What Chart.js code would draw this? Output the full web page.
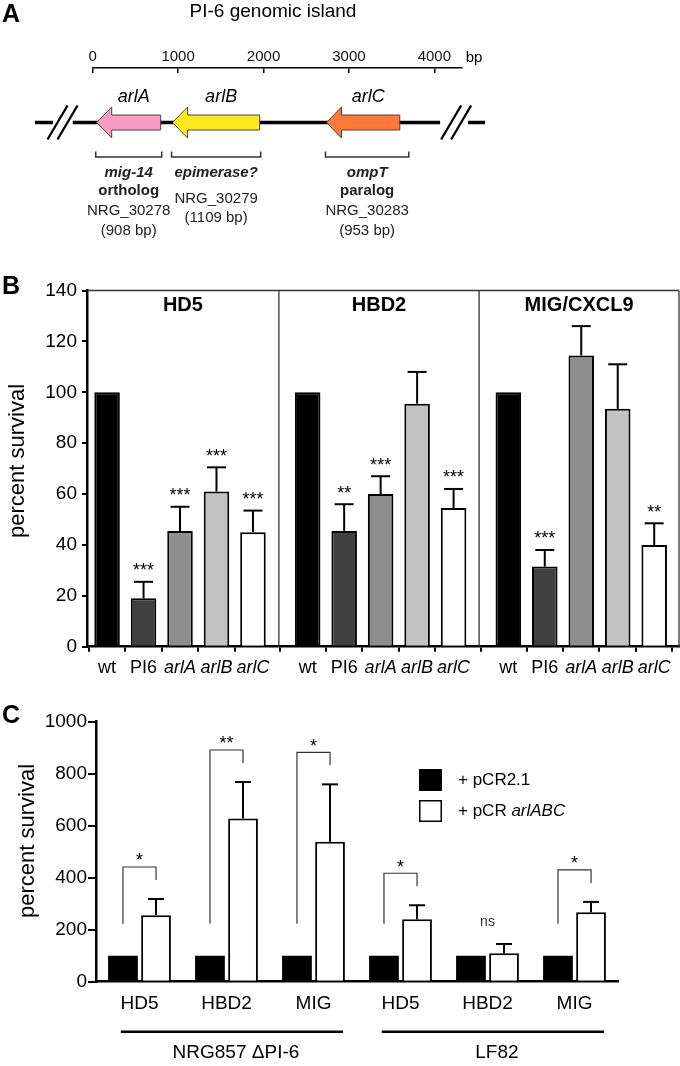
<!DOCTYPE html>
<html><head><meta charset="utf-8">
<script src="https://cdn.jsdelivr.net/npm/chart.js@4.4.0/dist/chart.umd.min.js"></script>
<style>
html,body{margin:0;padding:0;background:#fff;}
body{width:680px;height:1066px;position:relative;overflow:hidden;}
canvas{position:absolute;left:0;}
</style></head><body>
<canvas id="cA" width="680" height="250" style="top:0px"></canvas>
<canvas id="cB" width="680" height="430" style="top:260px"></canvas>
<canvas id="cC" width="680" height="366" style="top:700px"></canvas>
<script>
// ---------------- DATA ----------------
// Panel A: PI-6 genomic island gene map (bp)
const bpTicks = [0, 1000, 2000, 3000, 4000];
const geneNames = ['arlA', 'arlB', 'arlC'];
const geneStart = [47, 935, 2737];
const geneEnd = [796, 1955, 3595];
const geneProduct = [['mig-14', 'ortholog'], ['epimerase?'], ['ompT', 'paralog']];
const geneLocus = ['NRG_30278', 'NRG_30279', 'NRG_30283'];
const geneLength = ['908 bp', '1109 bp', '953 bp'];

// Panel B: percent survival per peptide
const peptidesB = ['HD5', 'HBD2', 'MIG/CXCL9'];
const strainsB = ['wt', 'PI6', 'arlA', 'arlB', 'arlC'];
const hd5Survival = [100, 19, 45.5, 61, 45];
const hd5Sem = [0, 6.5, 9.5, 9.5, 8.5];
const hd5Sig = ['', '***', '***', '***', '***'];
const hbd2Survival = [100, 45.5, 60, 95.5, 54.5];
const hbd2Sem = [0, 10.5, 7, 12.5, 7.5];
const hbd2Sig = ['', '**', '***', '', '***'];
const migSurvival = [100, 31.5, 114.5, 93.5, 40];
const migSem = [0, 6.5, 11.5, 17.5, 8.5];
const migSig = ['', '***', '', '', '**'];

// Panel C: complementation
const peptidesC = ['HD5', 'HBD2', 'MIG', 'HD5', 'HBD2', 'MIG'];
const strainGroupsC = ['NRG857 \u0394PI-6', 'LF82'];
const vectorLabels = ['+ pCR2.1', '+ pCR arlABC'];
const pCR21Survival = [100, 100, 100, 100, 100, 100];
const arlABCSurvival = [256, 628, 538, 240, 109, 267];
const arlABCSem = [62, 140, 221, 54, 36, 40];
const sigC = ['*', '**', '*', '*', 'ns', '*'];

// ---------------- HELPERS ----------------
const FONT = '"Liberation Sans", Arial, Helvetica, sans-serif';
Chart.defaults.font.family = FONT;
Chart.defaults.color = '#000';
const isItal = s => /^arl/.test(s);
const plain = v => String(v);

function txt(ctx, s, x, y, o = {}) {
  ctx.save();
  ctx.font = `${o.style || 'normal'} ${o.weight || 'normal'} ${o.size || 15}px ${FONT}`;
  ctx.fillStyle = o.color || '#000';
  ctx.textAlign = o.align || 'center';
  ctx.textBaseline = o.base || 'middle';
  ctx.fillText(s, x, y);
  ctx.restore();
}
function richLeft(ctx, s, x, y, size) {
  const words = s.split(' ');
  let cx = x;
  words.forEach((w, i) => {
    const t = (i < words.length - 1) ? w + ' ' : w;
    ctx.save();
    ctx.font = `${isItal(w) ? 'italic' : 'normal'} normal ${size}px ${FONT}`;
    ctx.fillStyle = '#000'; ctx.textAlign = 'left'; ctx.textBaseline = 'middle';
    ctx.fillText(t, cx, y);
    cx += ctx.measureText(t).width;
    ctx.restore();
  });
}
function star(ctx, s, x, cy, size) {
  txt(ctx, s, x, cy + 0.58 * size, { size, base: 'alphabetic' });
}
function line(ctx, x1, y1, x2, y2) { ctx.beginPath(); ctx.moveTo(x1, y1); ctx.lineTo(x2, y2); ctx.stroke(); }
function vtitle(ctx, s, x, y, size) {
  ctx.save(); ctx.translate(x, y); ctx.rotate(-Math.PI / 2);
  txt(ctx, s, 0, 0, { size }); ctx.restore();
}

// ---------------- PANEL A ----------------
const geneColors = ['#f89cc3', '#ffe81e', '#ff7a38'];
const genePlugin = {
  id: 'genes',
  afterDraw(chart) {
    const ctx = chart.ctx, xs = chart.scales.x;
    const px = v => xs.getPixelForValue(v);
    txt(ctx, 'A', 11, 15, { size: 25, weight: 'bold' });
    txt(ctx, 'PI-6 genomic island', 273, 12, { size: 19 });
    txt(ctx, 'bp', chart.chartArea.right + 4, 57.5, { size: 15, align: 'left' });
    const yc = 122.5;
    ctx.save();
    ctx.strokeStyle = '#000'; ctx.lineWidth = 3.5;
    line(ctx, px(-676), yc, px(-465), yc);
    line(ctx, px(-234), yc, px(4067), yc);
    line(ctx, px(4395), yc, px(4594), yc);
    ctx.lineWidth = 2.3;
    [-412, -295, 4196, 4313].forEach(v => { const c = px(v); line(ctx, c - 10, yc + 17, c + 10, yc - 17); });
    ctx.restore();
    geneNames.forEach((g, i) => {
      const x0 = px(geneStart[i]), x1 = px(geneEnd[i]);
      const bh = 7.5, hh = 15.5, hl = 15;
      ctx.save();
      ctx.beginPath();
      ctx.moveTo(x0, yc);
      ctx.lineTo(x0 + hl, yc - hh); ctx.lineTo(x0 + hl, yc - bh); ctx.lineTo(x1, yc - bh);
      ctx.lineTo(x1, yc + bh); ctx.lineTo(x0 + hl, yc + bh); ctx.lineTo(x0 + hl, yc + hh);
      ctx.closePath();
      ctx.fillStyle = geneColors[i]; ctx.fill();
      ctx.strokeStyle = '#444'; ctx.lineWidth = 1; ctx.stroke();
      ctx.restore();
      txt(ctx, g, (x0 + x1) / 2 + 5, 97, { size: 18, style: 'italic' });
      const bl = x0 - 1, br = (i === 2) ? x1 + 9 : x1 + 1;
      ctx.save(); ctx.strokeStyle = '#333'; ctx.lineWidth = 1.5;
      ctx.beginPath(); ctx.moveTo(bl, 151.5); ctx.lineTo(bl, 157); ctx.lineTo(br, 157); ctx.lineTo(br, 151.5); ctx.stroke();
      ctx.restore();
      const cx = (bl + br) / 2;
      const lines = geneProduct[i];
      txt(ctx, lines[0], cx, 173, { size: 15, weight: 'bold', style: 'italic', color: '#222' });
      if (lines.length > 1) {
        txt(ctx, lines[1], cx, 191, { size: 15, weight: 'bold', color: '#222' });
        txt(ctx, geneLocus[i], cx, 211, { size: 15, color: '#222' });
        txt(ctx, '(' + geneLength[i] + ')', cx, 231, { size: 15, color: '#222' });
      } else {
        txt(ctx, geneLocus[i], cx, 199, { size: 15, color: '#222' });
        txt(ctx, '(' + geneLength[i] + ')', cx, 218, { size: 15, color: '#222' });
      }
    });
  }
};
new Chart(document.getElementById('cA'), {
  type: 'scatter',
  data: { datasets: [{ data: [] }] },
  options: {
    responsive: false, animation: false, events: [],
    layout: { padding: { left: 92.7, right: 680 - 461.7, top: 0, bottom: 250 - 73 } },
    plugins: { legend: { display: false }, tooltip: { enabled: false } },
    scales: {
      x: {
        type: 'linear', position: 'top', min: 0, max: 4320,
        afterBuildTicks: s => { s.ticks = bpTicks.map(v => ({ value: v })); },
        afterFit: s => { s.height = 68; },
        ticks: { callback: plain, font: { size: 15 }, color: '#111', padding: 2, maxRotation: 0, autoSkip: false },
        grid: { drawOnChartArea: true, drawTicks: false, color: '#000', lineWidth: 1.5 },
        border: { display: true, color: '#000', width: 1.5 }
      },
      y: { display: false, min: 0, max: 1 }
    }
  },
  plugins: [genePlugin]
});

// ---------------- PANEL B ----------------
const strainColors = ['#000000', '#404040', '#8e8e8e', '#c2c2c2', '#ffffff'];
const groupOffsetB = [0.55, 6.05, 11.55];
const dividersB = [5.26, 10.75];
const survB = [hd5Survival, hbd2Survival, migSurvival];
const semB = [hd5Sem, hbd2Sem, migSem];
const sigB = [hd5Sig, hbd2Sig, migSig];
const ptsB = [], colB = [], eB = [], sB = [], labB = [], posB = [];
survB.forEach((arr, g) => arr.forEach((v, i) => {
  const x = groupOffsetB[g] + i;
  ptsB.push({ x, y: v }); posB.push(x);
  colB.push(strainColors[i]); eB.push(semB[g][i]); sB.push(sigB[g][i]); labB.push(strainsB[i]);
}));
const panelBPlugin = {
  id: 'panelB',
  afterDatasetsDraw(chart) {
    const ctx = chart.ctx, ys = chart.scales.y;
    chart.getDatasetMeta(0).data.forEach((bar, i) => {
      const top = ys.getPixelForValue(ptsB[i].y + eB[i]);
      if (eB[i] > 0) {
        ctx.save(); ctx.strokeStyle = '#000'; ctx.lineWidth = 2;
        line(ctx, bar.x, bar.y, bar.x, top);
        line(ctx, bar.x - 9.5, top, bar.x + 9.5, top);
        ctx.restore();
      }
      if (sB[i]) star(ctx, sB[i], bar.x, top - 16, 18);
    });
  },
  afterDraw(chart) {
    const ctx = chart.ctx, a = chart.chartArea, xs = chart.scales.x;
    const d = dividersB.map(v => xs.getPixelForValue(v));
    ctx.save(); ctx.strokeStyle = '#333'; ctx.lineWidth = 1.3;
    line(ctx, a.left, a.top, a.right, a.top);
    line(ctx, a.right, a.top, a.right, a.bottom);
    d.forEach(x => line(ctx, x, a.top, x, a.bottom));
    ctx.restore();
    const edges = [a.left, d[0], d[1], a.right];
    peptidesB.forEach((p, i) => txt(ctx, p, (edges[i] + edges[i + 1]) / 2, a.top + 14.5, { size: 20, weight: 'bold' }));
    vtitle(ctx, 'percent survival', 18.3, 201, 22);
    txt(ctx, 'B', 11, 27.5, { size: 25, weight: 'bold' });
  }
};
new Chart(document.getElementById('cB'), {
  type: 'bar',
  data: { datasets: [{ data: ptsB, backgroundColor: colB, borderColor: '#000', borderWidth: 2, borderSkipped: 'start', categoryPercentage: 1, barPercentage: 0.7 }] },
  options: {
    responsive: false, animation: false, events: [],
    layout: { padding: { left: 0, right: 1, top: 30.5, bottom: 0 } },
    plugins: { legend: { display: false }, tooltip: { enabled: false } },
    scales: {
      x: {
        type: 'linear', min: 0, max: 16.23, offset: false,
        afterBuildTicks: s => { s.ticks = posB.map(v => ({ value: v })); },
        afterFit: s => { s.height = 43.3; },
        ticks: {
          callback: (v, i) => labB[i], autoSkip: false, maxRotation: 0, minRotation: 0, padding: 5.5, color: '#000',
          font: c => ({ size: 18, family: FONT, style: isItal(labB[c.index]) ? 'italic' : 'normal' })
        },
        grid: { drawOnChartArea: false, tickLength: 5, color: '#000', lineWidth: 2 },
        border: { color: '#000', width: 2.5 }
      },
      y: {
        min: 0, max: 140,
        afterFit: s => { s.width = 87; },
        ticks: { callback: plain, stepSize: 20, font: { size: 19 }, color: '#000', padding: 5 },
        grid: { drawOnChartArea: false, tickLength: 5, color: '#000', lineWidth: 2 },
        border: { color: '#000', width: 2.5 }
      }
    }
  },
  plugins: [panelBPlugin]
});

// ---------------- PANEL C ----------------
const panelCPlugin = {
  id: 'panelC',
  afterDatasetsDraw(chart) {
    const ctx = chart.ctx, ys = chart.scales.y;
    const m0 = chart.getDatasetMeta(0).data, m1 = chart.getDatasetMeta(1).data;
    m1.forEach((bar, i) => {
      const top = ys.getPixelForValue(arlABCSurvival[i] + arlABCSem[i]);
      ctx.save(); ctx.strokeStyle = '#000'; ctx.lineWidth = 2;
      line(ctx, bar.x, bar.y, bar.x, top);
      line(ctx, bar.x - 8, top, bar.x + 8, top);
      ctx.restore();
      const xl = m0[i].x, xr = bar.x, cx = (xl + xr) / 2;
      if (sigC[i] === 'ns') {
        txt(ctx, 'ns', cx, top - 22, { size: 14, color: '#333' });
      } else {
        const bt = top - 32, rb = bt + 13, lb = ys.getPixelForValue(pCR21Survival[i]) - 32;
        ctx.save(); ctx.strokeStyle = '#333'; ctx.lineWidth = 1.2;
        ctx.beginPath(); ctx.moveTo(xl, lb); ctx.lineTo(xl, bt); ctx.lineTo(xr, bt); ctx.lineTo(xr, rb); ctx.stroke();
        ctx.restore();
        star(ctx, sigC[i], cx, bt - 11, 18);
      }
    });
  },
  afterDraw(chart) {
    const ctx = chart.ctx, xs = chart.scales.x;
    const gw = xs.getPixelForValue(1) - xs.getPixelForValue(0);
    strainGroupsC.forEach((g, k) => {
      const l = xs.getPixelForValue(3 * k) - 0.215 * gw, r = xs.getPixelForValue(3 * k + 2) + 0.34 * gw;
      ctx.save(); ctx.strokeStyle = '#000'; ctx.lineWidth = 2.5; line(ctx, l, 331.7, r, 331.7); ctx.restore();
      txt(ctx, g, (l + r) / 2 + 4, 352.7, { size: 19 });
    });
    chart.data.datasets.forEach((ds, i) => {
      const y0 = 69 + i * 31;
      ctx.save();
      ctx.fillStyle = ds.backgroundColor; ctx.fillRect(419, y0, 23, 22);
      ctx.strokeStyle = '#000'; ctx.lineWidth = 1.5; ctx.strokeRect(419.75, y0 + 0.75, 21.5, 20.5);
      ctx.restore();
      richLeft(ctx, ds.label, 458, y0 + 11, 17);
    });
    vtitle(ctx, 'percent survival', 28.3, 141, 22);
    txt(ctx, 'C', 11, 16, { size: 25, weight: 'bold' });
  }
};
new Chart(document.getElementById('cC'), {
  type: 'bar',
  data: {
    labels: peptidesC,
    datasets: [
      { label: vectorLabels[0], data: pCR21Survival, backgroundColor: '#000000', borderColor: '#000', borderWidth: 0 },
      { label: vectorLabels[1], data: arlABCSurvival, backgroundColor: '#ffffff', borderColor: '#000', borderWidth: 2, borderSkipped: 'start' }
    ]
  },
  options: {
    responsive: false, animation: false, events: [],
    datasets: { bar: { categoryPercentage: 0.76, barPercentage: 0.9 } },
    layout: { padding: { left: 0, right: 62, top: 21.7, bottom: 0 } },
    plugins: { legend: { display: false }, tooltip: { enabled: false } },
    scales: {
      x: {
        type: 'category', offset: true,
        afterFit: s => { s.height = 84.3; },
        ticks: { font: { size: 19 }, color: '#000', padding: 10.2, maxRotation: 0, autoSkip: false },
        grid: { display: false, drawTicks: false },
        border: { display: true, color: '#000', width: 2.5 }
      },
      y: {
        min: 0, max: 1000,
        afterFit: s => { s.width = 96; },
        ticks: { callback: plain, stepSize: 200, font: { size: 19 }, color: '#000', padding: 1 },
        grid: { drawOnChartArea: false, tickLength: 8, color: '#000', lineWidth: 2 },
        border: { color: '#000', width: 2.5 }
      }
    }
  },
  plugins: [panelCPlugin]
});
</script>
</body></html>
